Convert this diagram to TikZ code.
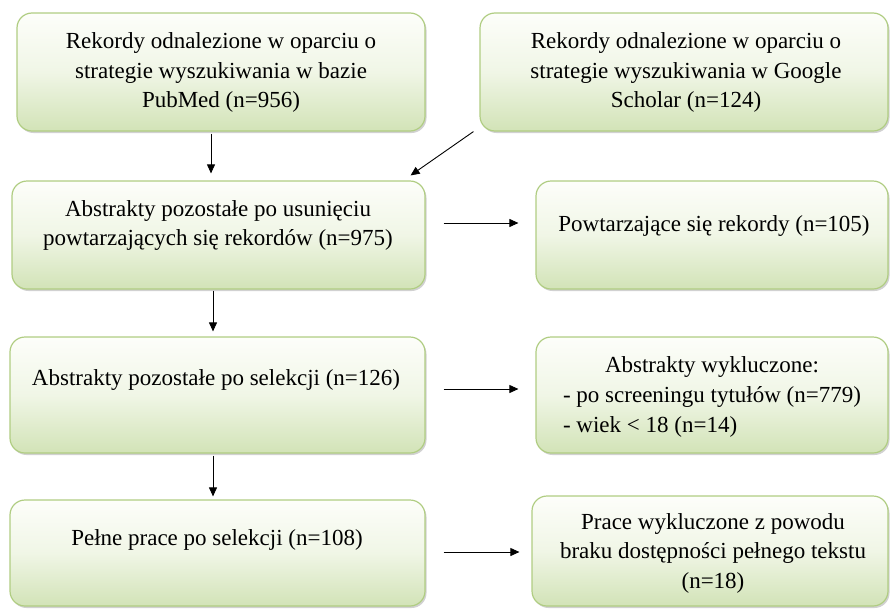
\documentclass[tikz,border=0pt]{standalone}
\usepackage{fontspec}
\setmainfont{Liberation Serif}
\usetikzlibrary{arrows.meta,shadows,calc}
\definecolor{boxborder}{RGB}{176,205,130}
\definecolor{boxtop}{RGB}{253,254,250}
\definecolor{boxbottom}{RGB}{210,227,183}
\begin{document}
\begin{tikzpicture}[x=1pt,y=-1pt,
  box/.style={draw=boxborder, line width=1.2pt, rounded corners=15pt,
    top color=boxtop, bottom color=boxbottom, middle color=boxtop!70!boxbottom,
    drop shadow={shadow xshift=1.5pt, shadow yshift=-2pt, opacity=0.3, fill=black!60},
    minimum width=#1, inner sep=0pt},
  lbl/.style={font=\fontsize{23}{29.5}\selectfont, align=center, inner sep=0pt, text=black},
  arr/.style={-{Triangle[length=9pt,width=8pt]}, line width=0.9pt, black}]
\useasboundingbox (0,0) rectangle (890,608);

% boxes
\node[box=408pt, minimum height=118pt] (b1) at (221,72) {};
\node[box=408pt, minimum height=118pt] (b2) at (684,72) {};
\node[box=413pt, minimum height=108pt] (b3) at (218.5,235) {};
\node[box=352pt, minimum height=108pt] (b4) at (712,235) {};
\node[box=415pt, minimum height=116pt] (b5) at (217.5,395) {};
\node[box=352pt, minimum height=116pt] (b6) at (712,395) {};
\node[box=415pt, minimum height=106pt] (b7) at (217.5,553) {};
\node[box=356pt, minimum height=110pt] (b8) at (710,551) {};

% texts
\node[lbl] (t1) at (221,72.5) {Rekordy odnalezione w oparciu o\\strategie wyszukiwania w bazie\\PubMed (n=956)};
\node[lbl] (t2) at (686,72.5) {Rekordy odnalezione w oparciu o\\strategie wyszukiwania w Google\\Scholar (n=124)};
\node[lbl] (t3) at (218,225.5) {Abstrakty pozostałe po usunięciu\\powtarzających się rekordów (n=975)};
\node[lbl] (t4) at (714,226) {Powtarzające się rekordy (n=105)};
\node[lbl] (t5) at (216,380) {Abstrakty pozostałe po selekcji (n=126)};
\node[lbl, align=left] (t6) at (712,396) {\fontsize{23}{30}\selectfont\begin{tabular}{@{}l@{}}\multicolumn{1}{@{}c@{}}{Abstrakty wykluczone:}\\- po screeningu tytułów (n=779)\\- wiek < 18 (n=14)\end{tabular}};
\node[lbl] (t7) at (217,540) {Pełne prace po selekcji (n=108)};
\node[lbl] (t8) at (713,553) {\fontsize{23}{30}\selectfont Prace wykluczone z powodu\\braku dostępności pełnego tekstu\\(n=18)};

% connectors
\draw[arr, shorten <=2pt, shorten >=7pt] ([xshift=-10pt]b1.south) -- ([xshift=-10pt]b1.south |- b3.north);
\draw[arr] ([xshift=-6pt]b2.south west) -- ([xshift=-15pt,yshift=5pt]b3.north east);
\draw[arr, shorten <=18pt, shorten >=17pt] ([yshift=12pt]b3.east) -- ([yshift=12pt]b3.east -| b4.west);
\draw[arr, shorten <=1pt, shorten >=5pt] ([xshift=-5.5pt]b3.south) -- ([xshift=-5.5pt]b3.south |- b5.north);
\draw[arr, shorten <=18pt, shorten >=17pt] ([yshift=6pt]b5.east) -- ([yshift=6pt]b5.east -| b6.west);
\draw[arr, shorten <=2pt, shorten >=3pt] ([xshift=-4.5pt]b5.south) -- ([xshift=-4.5pt]b5.south |- b7.north);
\draw[arr, shorten <=18pt, shorten >=12pt] ([yshift=1pt]b7.east) -- ([yshift=1pt]b7.east -| b8.west);
\end{tikzpicture}
\end{document}
